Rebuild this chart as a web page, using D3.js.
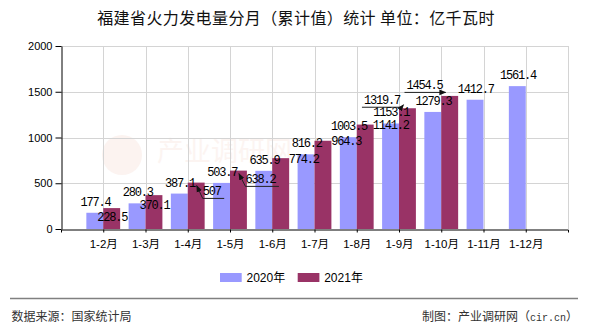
<!DOCTYPE html>
<html><head><meta charset="utf-8">
<script src="https://cdn.jsdelivr.net/npm/d3@7/dist/d3.min.js"></script>
<style>
html,body{margin:0;padding:0;background:#fff;}
svg{display:block;}
</style></head>
<body>
<script>
const categories = ['1-2月','1-3月','1-4月','1-5月','1-6月','1-7月','1-8月','1-9月','1-10月','1-11月','1-12月'];
const values2020 = [177.4,280.3,387.1,503.7,635.9,816.2,1003.5,1153.1,1279.3,1412.7,1561.4];
const values2021 = [228.5,370.1,507,638.2,774.2,964.3,1141.2,1319.7,1454.5,null,null];
const seriesNames = ['2020年','2021年'];
const yTicks = [0,500,1000,1500,2000];
const titleText = '福建省火力发电量分月（累计值）统计 单位：亿千瓦时';
const sourceText = '数据来源：国家统计局';

// label displacement (layout only) for the 2021 series, to mimic the collision avoidance in the reference
const labelShift2021 = [
  {dx:0, dy:20.2}, {dx:0, dy:20.8}, {dx:15, dy:19.8, leader:'right'}, {dx:21.5, dy:19.8, leader:'right'},
  {dx:22.5, dy:12}, {dx:22.7, dy:11}, {dx:25, dy:11}, {dx:-26, dy:3, leader:'left'}, {dx:-25.7, dy:0.5, leader:'left'},
  null, null
];

const W = 590, H = 330;
const colors = ['#9999ff', '#993366'];
const svg = d3.select('body').append('svg').attr('width', W).attr('height', H);

const defs = svg.append('defs');
defs.append('marker').attr('id','arr').attr('viewBox','0 0 10 10').attr('refX',9).attr('refY',5)
  .attr('markerWidth',7).attr('markerHeight',7).attr('markerUnits','userSpaceOnUse')
  .attr('orient','auto-start-reverse')
  .append('path').attr('d','M0,1 L10,5 L0,9 Z').attr('fill','#111');

const x = d3.scalePoint().domain(categories).range([61, 568]).padding(1);
const y = d3.scaleLinear().domain([0, 2000]).range([229, 46]);
const bw = x.step() * 0.4;

// watermark
const wm = svg.append('g').attr('opacity', 0.3);
wm.append('circle').attr('cx', 122).attr('cy', 155).attr('r', 20).attr('fill', '#f6d9cf');
wm.append('text').attr('x', 157).attr('y', 161).attr('font-size', 27)
  .attr('font-family', '"Noto Sans CJK SC", sans-serif').attr('fill', '#f6ddd4').text('产业调研网');

// gridlines
const grid = svg.append('g').attr('stroke', '#d4d4d4').attr('stroke-width', 1);
yTicks.filter(d => d > 0).forEach(t => {
  grid.append('line').attr('x1', 61).attr('x2', 568).attr('y1', Math.round(y(t)) + 0.5).attr('y2', Math.round(y(t)) + 0.5);
});
categories.forEach(c => {
  grid.append('line').attr('x1', Math.round(x(c)) + 0.5).attr('x2', Math.round(x(c)) + 0.5).attr('y1', y(2000)).attr('y2', y(0));
});
grid.append('line').attr('x1', 568.5).attr('x2', 568.5).attr('y1', y(2000)).attr('y2', y(0));

// bars
const series = [values2020, values2021];
series.forEach((vals, si) => {
  svg.append('g').selectAll('rect').data(vals.map((v, i) => ({v, c: categories[i]})).filter(d => d.v != null))
    .enter().append('rect')
    .attr('x', d => x(d.c) + (si === 0 ? -bw : 0))
    .attr('y', d => y(d.v))
    .attr('width', bw)
    .attr('height', d => y(0) - y(d.v))
    .attr('fill', colors[si]);
});

// axes
const yAxis = svg.append('g').attr('transform', 'translate(61.5,0)')
  .call(d3.axisLeft(y).tickValues(yTicks).tickSize(6).tickSizeOuter(0).tickPadding(3).tickFormat(d3.format('d')));
yAxis.selectAll('text').attr('font-size', 11).attr('font-family', '"Liberation Sans", Arial, sans-serif').attr('fill', '#000');
yAxis.selectAll('line,path').attr('stroke', '#000');

const xAxis = svg.append('g').attr('transform', 'translate(0,229.5)')
  .call(d3.axisBottom(x).tickSize(3).tickSizeOuter(3).tickPadding(7));
xAxis.selectAll('text').attr('font-size', 11.5).attr('font-family', '"Liberation Sans", "Noto Sans CJK SC", sans-serif').attr('fill', '#000');
xAxis.selectAll('line,path').attr('stroke', '#000');

// data labels
const labelFont = '"Liberation Mono", "DejaVu Sans Mono", monospace';
const lg = svg.append('g').attr('font-family', labelFont).attr('font-size', 12).attr('letter-spacing', -1.2).attr('fill', '#000');
const fmt = v => (Math.round(v * 10) % 10 === 0 ? String(v) : v.toFixed(1));
values2020.forEach((v, i) => {
  const cx = x(categories[i]) - bw / 2;
  lg.append('text').attr('x', cx + 0.6).attr('y', y(v) - 7).attr('text-anchor', 'middle').text(fmt(v));
});
const leaders = svg.append('g').attr('stroke', '#222').attr('stroke-width', 1).attr('fill', 'none');
values2021.forEach((v, i) => {
  if (v == null) return;
  const s = labelShift2021[i];
  const cx = x(categories[i]) + bw / 2;
  const top = y(v);
  const lx = cx + s.dx, ly = top - 7 + s.dy;
  const txt = fmt(v);
  lg.append('text').attr('x', lx + 0.6).attr('y', ly).attr('text-anchor', 'middle').text(txt);
  const half = txt.length * 6 / 2;
  if (s.leader === 'right') {
    leaders.append('path')
      .attr('d', `M${lx - half + 0.5},${ly + 3} L${cx + 0.5},${top + 3}`)
      .attr('marker-end', 'url(#arr)');
    leaders.append('path').attr('d', `M${lx - half + 0.5},${ly + 3} H${lx + half + 4}`);
  } else if (s.leader === 'left') {
    leaders.append('path')
      .attr('d', `M${lx - half - 1.5},${ly + 3} H${lx + half + 2} L${cx - 4},${top - 3.5}`)
      .attr('marker-end', 'url(#arr)');
  }
});

// title
svg.append('text').attr('x', 296).attr('y', 24).attr('text-anchor', 'middle')
  .attr('font-size', 16).attr('font-family', '"Noto Sans CJK SC", sans-serif').attr('fill', '#111')
  .attr('letter-spacing', 0.4).text(titleText);

// legend
const legend = svg.append('g').attr('font-family', '"Liberation Sans", "Noto Sans CJK SC", sans-serif').attr('font-size', 12);
const legX = [220, 297.7];
seriesNames.forEach((n, i) => {
  legend.append('rect').attr('x', legX[i]).attr('y', 273).attr('width', 21.7).attr('height', 9).attr('fill', colors[i]);
  legend.append('text').attr('x', legX[i] + 26.5).attr('y', 281.5).attr('fill', '#000').text(n);
});

// footer
svg.append('line').attr('x1', 10).attr('x2', 578).attr('y1', 298.5).attr('y2', 298.5).attr('stroke', '#808080').attr('stroke-width', 1.3);
const foot = svg.append('g').attr('font-family', '"Noto Sans CJK SC", sans-serif').attr('font-size', 12).attr('fill', '#333');
foot.append('text').attr('x', 11.5).attr('y', 320.5).text(sourceText);
const rt = foot.append('text').attr('x', 578).attr('y', 320.5).attr('text-anchor', 'end');
rt.append('tspan').text('制图：产业调研网（');
rt.append('tspan').attr('font-family', labelFont).attr('font-size', 10).text('cir.cn');
rt.append('tspan').text('）');
</script>
</body></html>
